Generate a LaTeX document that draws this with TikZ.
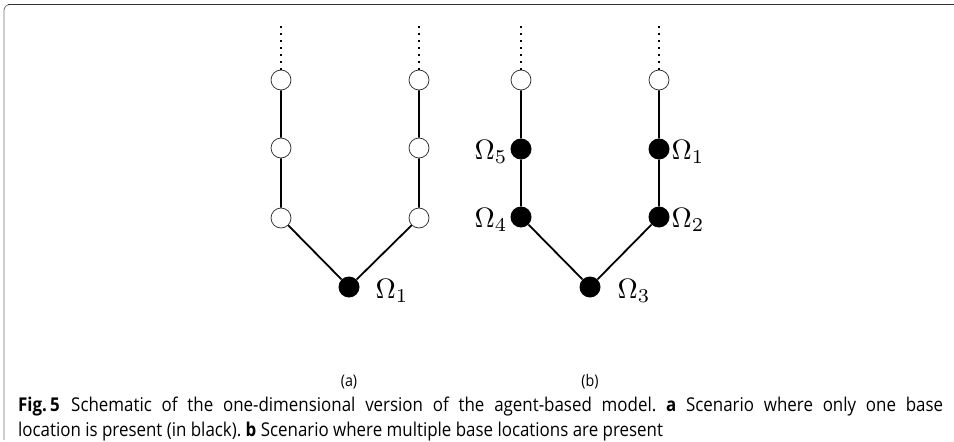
\documentclass[tikz,border=0pt]{standalone}
\usepackage{fontspec}
\setsansfont{Open Sans}
\newfontfamily\capfont[FakeStretch=0.89]{Open Sans}
\frenchspacing
\begin{document}
\begin{tikzpicture}[x=1pt,y=-1pt,
  edge/.style={line width=1.8pt,black},
  dots/.style={line width=1.6pt,dash pattern=on 1.6pt off 5.4pt},
  opennode/.style={circle,draw=black!85,line width=0.7pt,fill=white,minimum size=20pt,inner sep=0pt},
  basenode/.style={circle,fill=black,minimum size=21pt,inner sep=0pt},
  lab/.style={inner sep=0pt,scale=2.8},
  sub/.style={inner sep=0pt,font=\capfont\fontsize{16}{18}\selectfont},
  capt/.style={inner sep=0pt,anchor=west,font=\capfont\fontsize{19}{22}\selectfont}]
\useasboundingbox (0,0) rectangle (954,442);
% frame
\draw[black!55,line width=0.8pt,rounded corners=6pt] (4,440) -- (4,4.5) -- (954,4.5);
\draw[black!80,line width=1.6pt] (8,4.5) -- (954,4.5);
% coordinates for dotted ends
\foreach \n/\x in {aL/281,aR/419,bL/521,bR/659}{\coordinate (t\n) at (\x,24);}
% panel (a)
\node[opennode] (aL1) at (281,80) {};
\node[opennode] (aL2) at (281,148) {};
\node[opennode] (aL3) at (281,218) {};
\node[opennode] (aR1) at (419,80) {};
\node[opennode] (aR2) at (419,148) {};
\node[opennode] (aR3) at (419,218) {};
\node[basenode] (aB) at (349,287) {};
\draw[dots] (aL1.north) -- (taL);
\draw[dots] (aR1.north) -- (taR);
\draw[edge] (aL1) -- (aL2) -- (aL3) -- (aB) -- (aR3) -- (aR2) -- (aR1);
\node[lab,anchor=west] (oa1) at (375,291) {$\Omega_1$};
% panel (b)
\node[opennode] (bL1) at (521,80) {};
\node[basenode] (bL2) at (521,149) {};
\node[basenode] (bL3) at (521,217) {};
\node[opennode] (bR1) at (659,80) {};
\node[basenode] (bR2) at (659,149) {};
\node[basenode] (bR3) at (659,217) {};
\node[basenode] (bB) at (590,287) {};
\draw[dots] (bL1.north) -- (tbL);
\draw[dots] (bR1.north) -- (tbR);
\draw[edge] (bL1) -- (bL2) -- (bL3) -- (bB) -- (bR3) -- (bR2) -- (bR1);
\node[lab,anchor=east] (ob5) at (508,152) {$\Omega_5$};
\node[lab,anchor=east] (ob4) at (508,220) {$\Omega_4$};
\node[lab,anchor=west] (ob1) at (671,152) {$\Omega_1$};
\node[lab,anchor=west] (ob2) at (671,220) {$\Omega_2$};
\node[lab,anchor=west] (ob3) at (617,291) {$\Omega_3$};
% sub-labels
\node[sub] (sa) at (349,382) {(a)};
\node[sub] (sb) at (590,382) {(b)};
% caption
\node[capt] (c1) at (18,407) {\makebox[925pt][s]{{\bfseries Fig.\,5}\hspace{0.6em}Schematic of the one-dimensional version of the agent-based model. {\bfseries a} Scenario where only one base}};
\node[capt] (c2) at (18,432) {location is present (in black). {\bfseries b} Scenario where multiple base locations are present};
\end{tikzpicture}
\end{document}
